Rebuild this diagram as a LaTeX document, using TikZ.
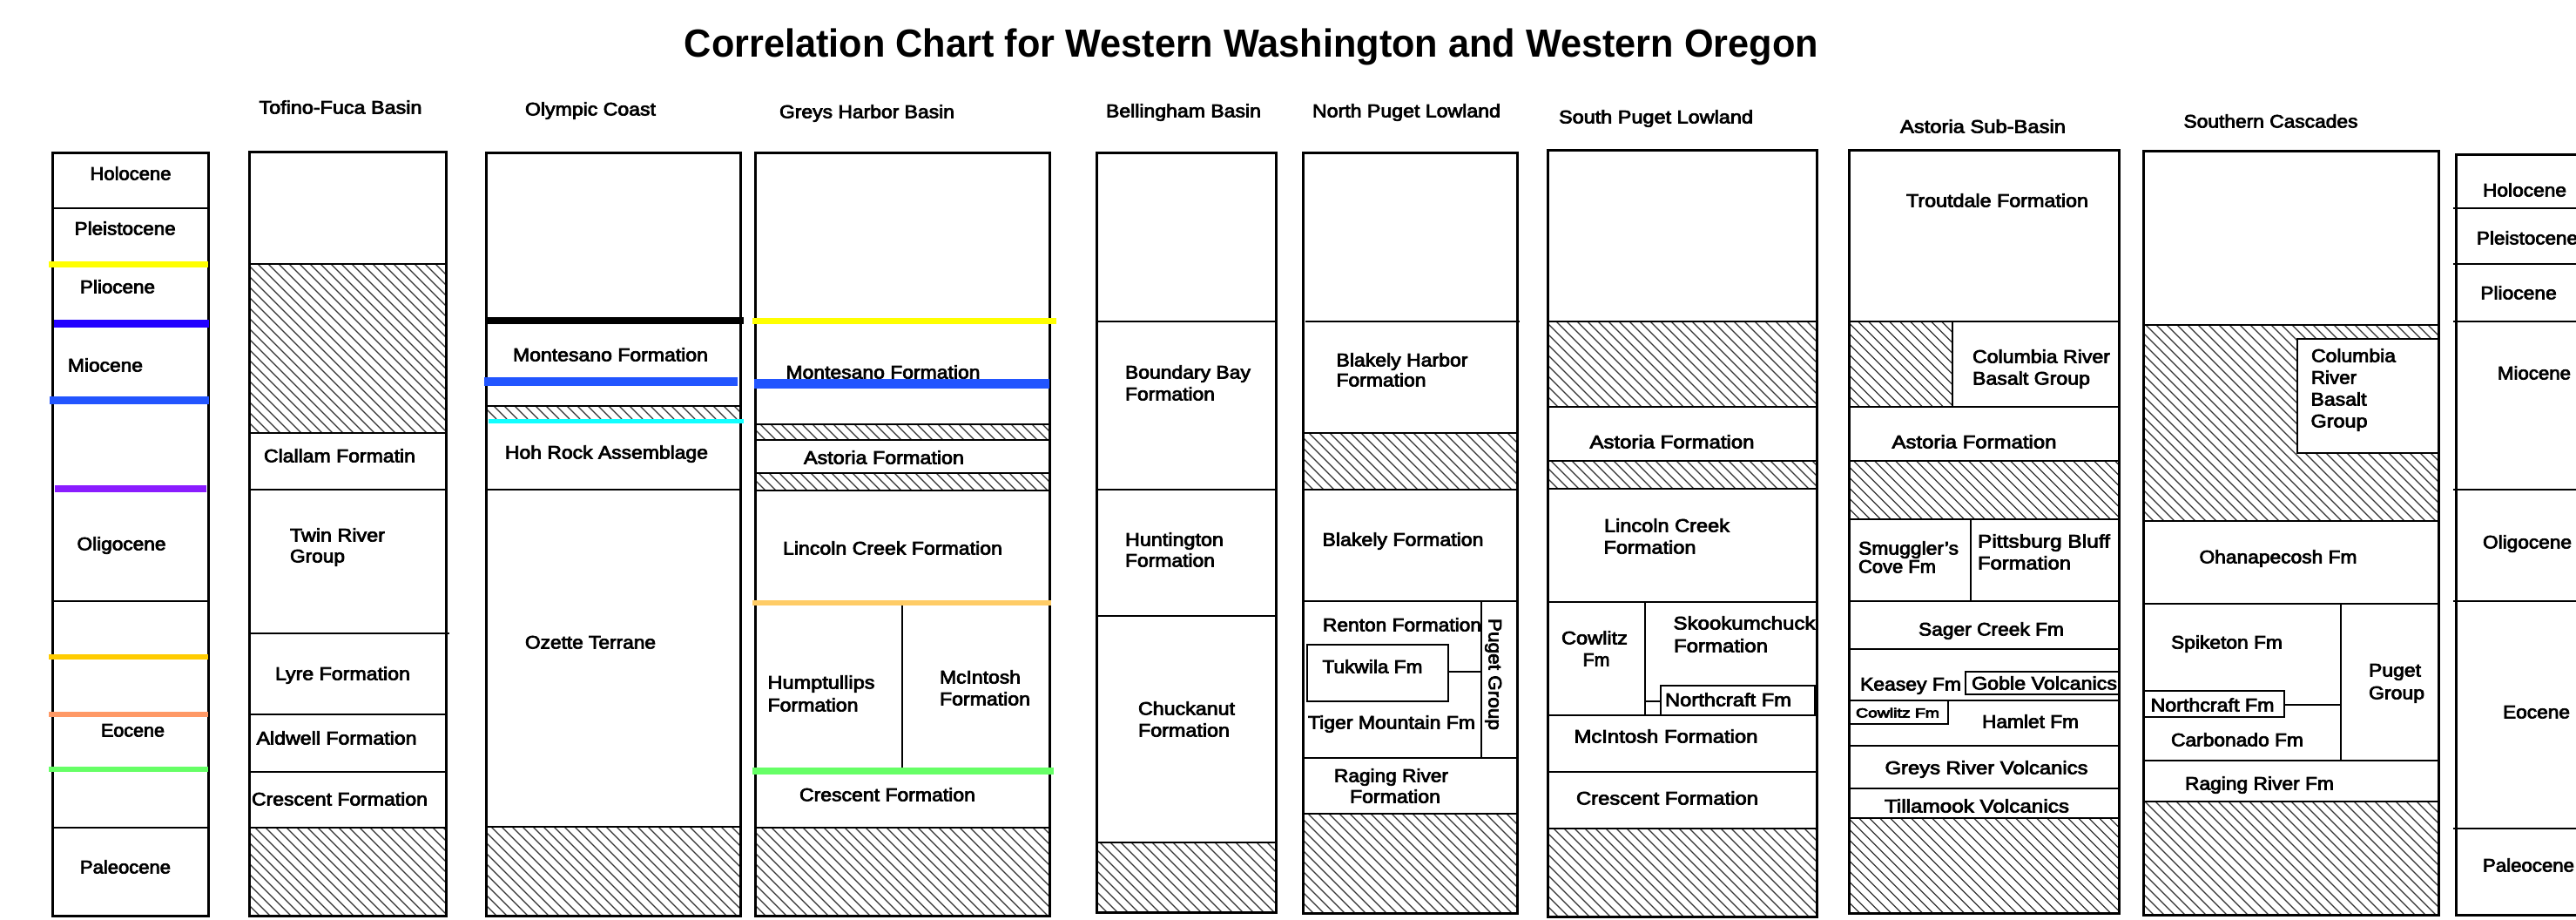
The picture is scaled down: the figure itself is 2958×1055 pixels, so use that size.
\documentclass[tikz,border=0pt]{standalone}
\usepackage{fontspec}
\setmainfont{Liberation Sans}
\usepackage{graphicx}
\definecolor{cYel}{HTML}{FFFF00}
\definecolor{cDBlue}{HTML}{2200FF}
\definecolor{cBlue}{HTML}{2255FF}
\definecolor{cPurp}{HTML}{8A1CFF}
\definecolor{cGold}{HTML}{FFCC00}
\definecolor{cSalm}{HTML}{FF9966}
\definecolor{cGrn}{HTML}{66FF66}
\definecolor{cOrng}{HTML}{FFCC66}
\definecolor{cCyan}{HTML}{11FFFF}
\newcommand\heavy[1]{\special{pdf:literal direct 2 Tr 0.7 w}#1\special{pdf:literal direct 0 Tr}}
\tikzset{
  frame/.style={draw=black, line width=3pt},
  sep/.style={draw=black, line width=2.4pt},
  thinsep/.style={draw=black, line width=2pt},
  hatchline/.style={draw=black!80, line width=1.2pt},
  lab/.style={inner sep=0pt, text height=15pt, text depth=0pt, font=\fontsize{21}{25}\selectfont},
  labsmall/.style={inner sep=0pt, text height=11pt, text depth=0pt, font=\fontsize{15}{18}\selectfont},
  titlestyle/.style={inner sep=0pt, text height=32pt, text depth=0pt, font=\bfseries\fontsize{45}{50}\selectfont},
}
\newcommand\lb[5]{\node[lab] (#1) at (#2,#3) {\resizebox{#4pt}{\height}{\heavy{#5}}};}
\newcommand\hatchbox[4]{%
  \begin{scope}
    \clip (#1,#2) rectangle (#3,#4);
    \pgfmathsetmacro\myHH{#4-#2}
    \pgfmathsetmacro\myHS{#1-\myHH}
    \pgfmathsetmacro\myHN{\myHS+12}
    \foreach \k in {\myHS,\myHN,...,#3} \draw[hatchline] (\k,#2) -- ++(\myHH,\myHH);
  \end{scope}}
\begin{document}
\begin{tikzpicture}[x=1pt,y=-1pt]
\useasboundingbox (0,0) rectangle (2958,1055);
\clip (0,0) rectangle (2958,1055);
\fill[white] (0,0) rectangle (2958,1055);

% title
\node[titlestyle] (title) at (1437,49) {\resizebox{1302pt}{\height}{Correlation Chart for Western Washington and Western Oregon}};

% ---------- left epoch column ----------
\draw[sep] (60,239) -- (239,239);
\draw[sep] (60,690) -- (239,690);
\draw[sep] (60,950) -- (239,950);
\draw[frame] (60,175) rectangle (239,1051);
\draw[cYel, line width=7pt] (56,303) -- (239,303);
\draw[cDBlue, line width=9pt] (62,371) -- (240,371);
\draw[cBlue, line width=9pt] (57,459) -- (240,459);
\draw[cPurp, line width=8pt] (63,561) -- (237,561);
\draw[cGold, line width=6pt] (56,754) -- (239,754);
\draw[cSalm, line width=6pt] (56,820) -- (239,820);
\draw[cGrn, line width=6pt] (56,883) -- (239,883);
\lb{e1}{150}{199}{93}{Holocene}
\lb{e2}{143.7}{262}{116}{Pleistocene}
\lb{e3}{135}{329}{86}{Pliocene}
\lb{e4}{121}{419}{86}{Miocene}
\lb{e5}{139.5}{624}{102}{Oligocene}
\lb{e6}{152.5}{838}{73}{Eocene}
\lb{e7}{144}{995}{104}{Paleocene}

% ---------- headers ----------
\lb{h1}{391}{123}{187}{Tofino-Fuca Basin}
\lb{h2}{678}{125}{150}{Olympic Coast}
\lb{h3}{995.5}{128}{201}{Greys Harbor Basin}
\lb{h4}{1359}{127}{178}{Bellingham Basin}
\lb{h5}{1615}{127}{216}{North Puget Lowland}
\lb{h6}{1901.5}{134}{223}{South Puget Lowland}
\lb{h7}{2277}{145}{190}{Astoria Sub-Basin}
\lb{h8}{2607.5}{139}{200}{Southern Cascades}

% ---------- Tofino-Fuca Basin ----------
\hatchbox{286}{303}{512}{497}
\hatchbox{286}{950}{512}{1051}
\foreach \yy in {303,497,562,820,886,950} \draw[sep] (286,\yy) -- (512,\yy);
\draw[sep] (286,727) -- (516,727);
\draw[frame] (286,174) rectangle (512,1051);
\lb{tf1}{390}{523}{174}{Clallam Formatin}
\lb{tf2}{387.5}{614}{109}{Twin River}
\lb{tf3}{364.5}{638}{63}{Group}
\lb{tf4}{393.5}{773}{155}{Lyre Formation}
\lb{tf5}{386.6}{847}{184}{Aldwell Formation}
\lb{tf6}{390}{917}{202}{Crescent Formation}

% ---------- Olympic Coast ----------
\hatchbox{558}{466}{850}{481}
\hatchbox{558}{949}{850}{1051}
\foreach \yy in {466,562,949} \draw[sep] (558,\yy) -- (850,\yy);
\draw[frame] (558,175) rectangle (850,1051);
\draw[black, line width=8pt] (558,368) -- (854,368);
\draw[cBlue, line width=10pt] (556,438) -- (847,438);
\draw[cCyan, line width=5pt] (561,483) -- (854,483);
\lb{oc1}{701}{407}{224}{Montesano Formation}
\lb{oc2}{696.5}{519}{233}{Hoh Rock Assemblage}
\lb{oc3}{678}{737}{150}{Ozette Terrane}

% ---------- Greys Harbor Basin ----------
\hatchbox{867}{487}{1205}{505}
\hatchbox{867}{543}{1205}{563}
\hatchbox{867}{950}{1205}{1051}
\foreach \yy in {487,505,543,563,950} \draw[sep] (867,\yy) -- (1205,\yy);
\draw[thinsep] (1036,692) -- (1036,885);
\draw[frame] (867,175) rectangle (1205,1051);
\draw[cYel, line width=7pt] (864,368) -- (1213,368);
\draw[cBlue, line width=11pt] (866,440) -- (1205,440);
\draw[cOrng, line width=6pt] (864,692) -- (1207,692);
\draw[cGrn, line width=8pt] (864,885) -- (1210,885);
\lb{gh1}{1014}{427}{223}{Montesano Formation}
\lb{gh2}{1015}{525}{184}{Astoria Formation}
\lb{gh3}{1025}{629}{252}{Lincoln Creek Formation}
\lb{gh4}{943}{783}{123}{Humptullips}
\lb{gh5}{933.5}{809}{104}{Formation}
\lb{gh6}{1125.5}{777}{93}{McIntosh}
\lb{gh7}{1131}{802}{104}{Formation}
\lb{gh8}{1019}{912}{202}{Crescent Formation}

% ---------- Bellingham Basin ----------
\hatchbox{1259}{967}{1465}{1047}
\foreach \yy in {369,562,707,967} \draw[sep] (1259,\yy) -- (1465,\yy);
\draw[frame] (1259,175) rectangle (1465,1047);
\lb{bb1}{1364}{427}{144}{Boundary Bay}
\lb{bb2}{1343.5}{452}{103}{Formation}
\lb{bb3}{1348.5}{619}{113}{Huntington}
\lb{bb4}{1343.5}{643}{103}{Formation}
\lb{bb5}{1362.5}{813}{111}{Chuckanut}
\lb{bb6}{1359.5}{838}{105}{Formation}

% ---------- North Puget Lowland ----------
\hatchbox{1496}{497}{1742}{562}
\hatchbox{1496}{934}{1742}{1048}
\draw[sep] (1499,369) -- (1745,369);
\foreach \yy in {497,562,690,870,934} \draw[sep] (1496,\yy) -- (1742,\yy);
\draw[thinsep] (1701,690) -- (1701,870);
\draw[thinsep] (1501,740) rectangle (1663,805);
\draw[line width=1.5pt] (1663,771) -- (1701,771);
\draw[frame] (1496,175) rectangle (1742,1048);
\lb{np1}{1610}{413}{151}{Blakely Harbor}
\lb{np2}{1586}{436}{103}{Formation}
\lb{np3}{1611}{619}{185}{Blakely Formation}
\lb{np4}{1610}{717}{182}{Renton Formation}
\lb{np5}{1576}{765}{115}{Tukwila Fm}
\lb{np6}{1598}{829}{192}{Tiger Mountain Fm}
\lb{np7}{1597.5}{890}{131}{Raging River}
\lb{np8}{1602}{914}{104}{Formation}
\node[lab, rotate=-90] (np9) at (1717,774) {\resizebox{128pt}{\height}{\heavy{Puget Group}}};

% ---------- South Puget Lowland ----------
\hatchbox{1777}{369}{2086}{467}
\hatchbox{1777}{529}{2086}{561}
\hatchbox{1777}{951}{2086}{1052}
\foreach \yy in {369,467,529,561,691,821,886,951} \draw[sep] (1777,\yy) -- (2086,\yy);
\draw[thinsep] (1889,691) -- (1889,821);
\draw[thinsep] (1907,787) rectangle (2084,821);
\draw[line width=1.5pt] (1889,805) -- (1907,805);
\draw[frame] (1777,172) rectangle (2086,1052);
\lb{sp1}{1920}{507}{189}{Astoria Formation}
\lb{sp2}{1914}{603}{144}{Lincoln Creek}
\lb{sp3}{1894.5}{628}{106}{Formation}
\lb{sp4}{1831}{732}{76}{Cowlitz}
\lb{sp5}{1833}{757}{31}{Fm}
\lb{sp6}{2003}{715}{163}{Skookumchuck}
\lb{sp7}{1976}{741}{108}{Formation}
\lb{sp8}{1984.5}{803}{145}{Northcraft Fm}
\lb{sp9}{1913}{845}{211}{McIntosh Formation}
\lb{sp10}{1914.5}{916}{209}{Crescent Formation}

% ---------- Astoria Sub-Basin ----------
\hatchbox{2123.5}{369}{2242}{467}
\hatchbox{2123.5}{529}{2433}{596}
\hatchbox{2123.5}{939}{2433}{1048}
\foreach \yy in {369,467,529,596,690,745,804,856,905,939} \draw[sep] (2123.5,\yy) -- (2433,\yy);
\draw[thinsep] (2242,369) -- (2242,467);
\draw[thinsep] (2263,596) -- (2263,690);
\draw[thinsep] (2257,771) rectangle (2433,797);
\draw[thinsep] (2123.5,804) rectangle (2237,831);
\draw[frame] (2123.5,172) rectangle (2433,1048);
\lb{as1}{2293.5}{230}{209}{Troutdale Formation}
\lb{as2}{2344}{409}{158}{Columbia River}
\lb{as3}{2332.5}{434}{135}{Basalt Group}
\lb{as4}{2267}{507}{189}{Astoria Formation}
\lb{as5}{2191.5}{629}{115}{Smuggler’s}
\lb{as6}{2178.5}{650}{89}{Cove Fm}
\lb{as7}{2347}{621}{152}{Pittsburg Bluff}
\lb{as8}{2324.5}{646}{107}{Formation}
\lb{as9}{2286.5}{722}{167}{Sager Creek Fm}
\lb{as10}{2194}{785}{116}{Keasey Fm}
\lb{as11}{2347.5}{784}{167}{Goble Volcanics}
\node[labsmall] (as12) at (2179,818) {\resizebox{96pt}{\height}{\heavy{Cowlitz Fm}}};
\lb{as13}{2331.5}{828}{111}{Hamlet Fm}
\lb{as14}{2281}{881}{233}{Greys River Volcanics}
\lb{as15}{2270}{925}{212}{Tillamook Volcanics}

% ---------- Southern Cascades ----------
\hatchbox{2461}{373}{2800}{598}
\hatchbox{2461}{920}{2800}{1050}
\fill[white] (2638,389) rectangle (2800,520);
\draw[thinsep] (2638,389) rectangle (2800,520);
\foreach \yy in {373,598,693,873,920} \draw[sep] (2461,\yy) -- (2800,\yy);
\draw[thinsep] (2688,693) -- (2688,873);
\draw[thinsep] (2461,793) rectangle (2623,823);
\draw[sep] (2623,809) -- (2688,809);
\draw[frame] (2461,173) rectangle (2800,1050);
\lb{sc1}{2702.5}{408}{97}{Columbia}
\lb{sc2}{2680}{433}{52}{River}
\lb{sc3}{2685.5}{458}{64}{Basalt}
\lb{sc4}{2686}{483}{65}{Group}
\lb{sc5}{2616}{639}{181}{Ohanapecosh Fm}
\lb{sc6}{2557}{737}{128}{Spiketon Fm}
\lb{sc7}{2540.5}{809}{142}{Northcraft Fm}
\lb{sc8}{2569}{849}{152}{Carbonado Fm}
\lb{sc9}{2750}{769}{60}{Puget}
\lb{sc10}{2752}{795}{64}{Group}
\lb{sc11}{2594.5}{899}{171}{Raging River Fm}

% ---------- right epoch column ----------
\foreach \yy in {239,303,369,562,690,951} \draw[sep] (2817,\yy) -- (3010,\yy);
\draw[frame] (2820,177) rectangle (3010,1050);
\lb{r1}{2899}{218}{96}{Holocene}
\lb{r2}{2902}{273}{116}{Pleistocene}
\lb{r3}{2892}{336}{87.5}{Pliocene}
\lb{r4}{2910}{428}{84}{Miocene}
\lb{r5}{2902}{622}{102}{Oligocene}
\lb{r6}{2912.5}{817}{77}{Eocene}
\lb{r7}{2903.5}{993}{105}{Paleocene}
\end{tikzpicture}
\end{document}
